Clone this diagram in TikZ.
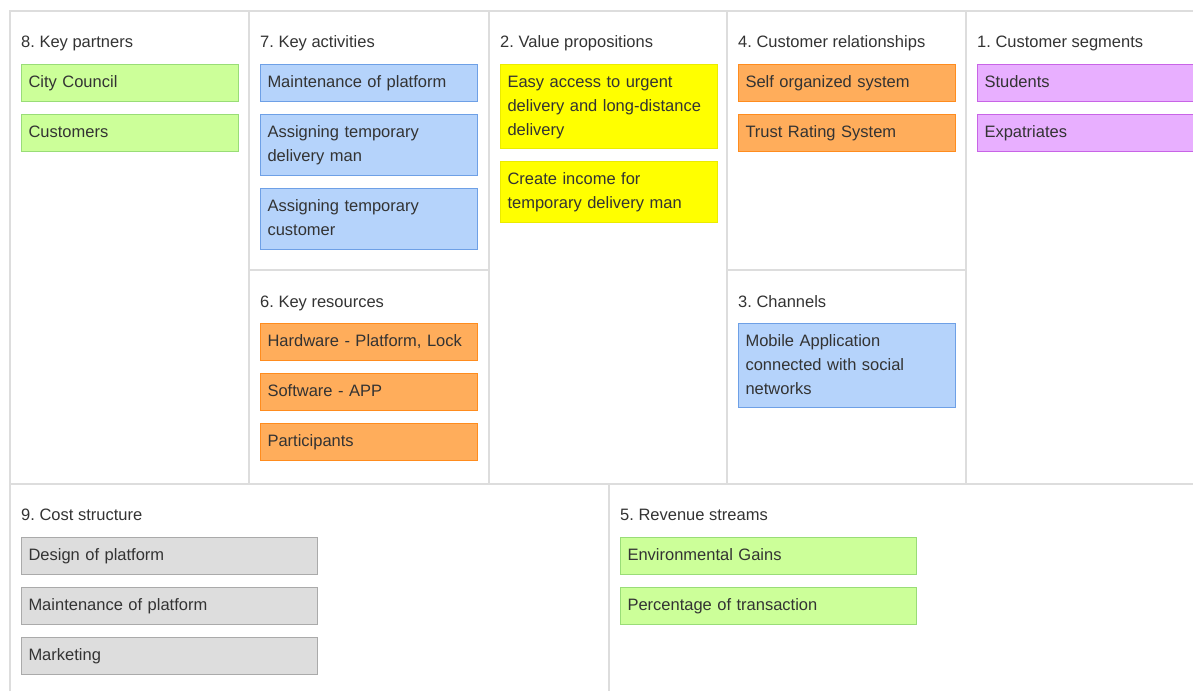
\documentclass[tikz,border=0pt]{standalone}
\usepackage{fontspec}
\setmainfont{Liberation Sans}
\usetikzlibrary{positioning}
\frenchspacing
\definecolor{gridgray}{RGB}{221,221,221}
\definecolor{inkgray}{RGB}{51,51,51}
\definecolor{greenfill}{RGB}{204,255,153}
\definecolor{greenline}{RGB}{153,221,119}
\definecolor{bluefill}{RGB}{181,211,251}
\definecolor{blueline}{RGB}{110,160,230}
\definecolor{yellowfill}{RGB}{255,255,0}
\definecolor{yellowline}{RGB}{235,235,0}
\definecolor{orangefill}{RGB}{255,173,91}
\definecolor{orangeline}{RGB}{255,140,30}
\definecolor{purplefill}{RGB}{232,175,255}
\definecolor{purpleline}{RGB}{200,100,230}
\definecolor{greyfill}{RGB}{221,221,221}
\definecolor{greyline}{RGB}{170,170,170}

\begin{document}
\begin{tikzpicture}[x=1pt,y=-1pt,
  node distance=12pt,
  txt/.style={font=\fontsize{16.5}{24}\selectfont,text=inkgray},
  celltitle/.style={txt,anchor=base west,inner sep=0pt},
  note/.style={txt,draw,line width=1pt,anchor=north west,align=left,
               inner xsep=7pt,inner ysep=0pt,text width=203pt,minimum height=37pt,
               execute at begin node={\strut},execute at end node={\strut}},
  widenote/.style={note,text width=282pt},
  twoline/.style={minimum height=61pt},
  threeline/.style={minimum height=84pt},
  partner/.style={fill=greenfill,draw=greenline},
  activity/.style={fill=bluefill,draw=blueline},
  value/.style={fill=yellowfill,draw=yellowline},
  relation/.style={fill=orangefill,draw=orangeline},
  segment/.style={fill=purplefill,draw=purpleline},
  cost/.style={fill=greyfill,draw=greyline},
  gridline/.style={draw=gridgray,line width=2pt}]
\useasboundingbox (0,0) rectangle (1193,691);

% canvas grid
\draw[gridline] (10,691) -- (10,11) -- (1193,11);
\draw[gridline] (10,484) -- (1193,484);
\draw[gridline] (249,11) -- (249,484);
\draw[gridline] (489,11) -- (489,484);
\draw[gridline] (727,11) -- (727,484);
\draw[gridline] (966,11) -- (966,484);
\draw[gridline] (249,270) -- (489,270);
\draw[gridline] (727,270) -- (966,270);
\draw[gridline] (609,484) -- (609,691);

% 8. key partners
\node[celltitle] (partnersT) at (21,47) {8. Key partners};
\node[note,partner] (council) at (21,64) {City Council};
\node[note,partner,below=of council] (customers) {Customers};

% 7. key activities
\node[celltitle] (activitiesT) at (260,47) {7. Key activities};
\node[note,activity] (maint) at (260,64) {Maintenance of platform};
\node[note,activity,twoline,below=of maint] (assignman) {Assigning temporary\\delivery man};
\node[note,activity,twoline,below=of assignman] (assigncust) {Assigning temporary\\customer};

% 6. key resources
\node[celltitle] (resourcesT) at (260,307) {6. Key resources};
\node[note,relation] (hardware) at (260,323) {Hardware - Platform, Lock};
\node[note,relation,below=of hardware] (software) {Software - APP};
\node[note,relation,below=of software] (participants) {Participants};

% 2. value propositions
\node[celltitle] (valueT) at (500,47) {2. Value propositions};
\node[note,value,threeline] (access) at (500,64) {Easy access to urgent\\delivery and long-distance\\delivery};
\node[note,value,twoline,below=of access] (income) {Create income for\\temporary delivery man};

% 4. customer relationships
\node[celltitle] (relationsT) at (738,47) {4. Customer relationships};
\node[note,relation] (selforg) at (738,64) {Self organized system};
\node[note,relation,below=of selforg] (trust) {Trust Rating System};

% 3. channels
\node[celltitle] (channelsT) at (738,307) {3. Channels};
\node[note,activity,threeline] (mobile) at (738,323) {Mobile Application\\connected with social\\networks};

% 1. customer segments
\node[celltitle] (segmentsT) at (977,47) {1. Customer segments};
\node[note,segment] (students) at (977,64) {Students};
\node[note,segment,below=of students] (expats) {Expatriates};

% 9. cost structure
\node[celltitle] (costT) at (21,520) {9. Cost structure};
\node[widenote,cost] (design) at (21,537) {Design of platform};
\node[widenote,cost,below=of design] (maintcost) {Maintenance of platform};
\node[widenote,cost,below=of maintcost] (marketing) {Marketing};

% 5. revenue streams
\node[celltitle] (revenueT) at (620,520) {5. Revenue streams};
\node[widenote,partner] (envgains) at (620,537) {Environmental Gains};
\node[widenote,partner,below=of envgains] (percent) {Percentage of transaction};
\end{tikzpicture}
\end{document}
